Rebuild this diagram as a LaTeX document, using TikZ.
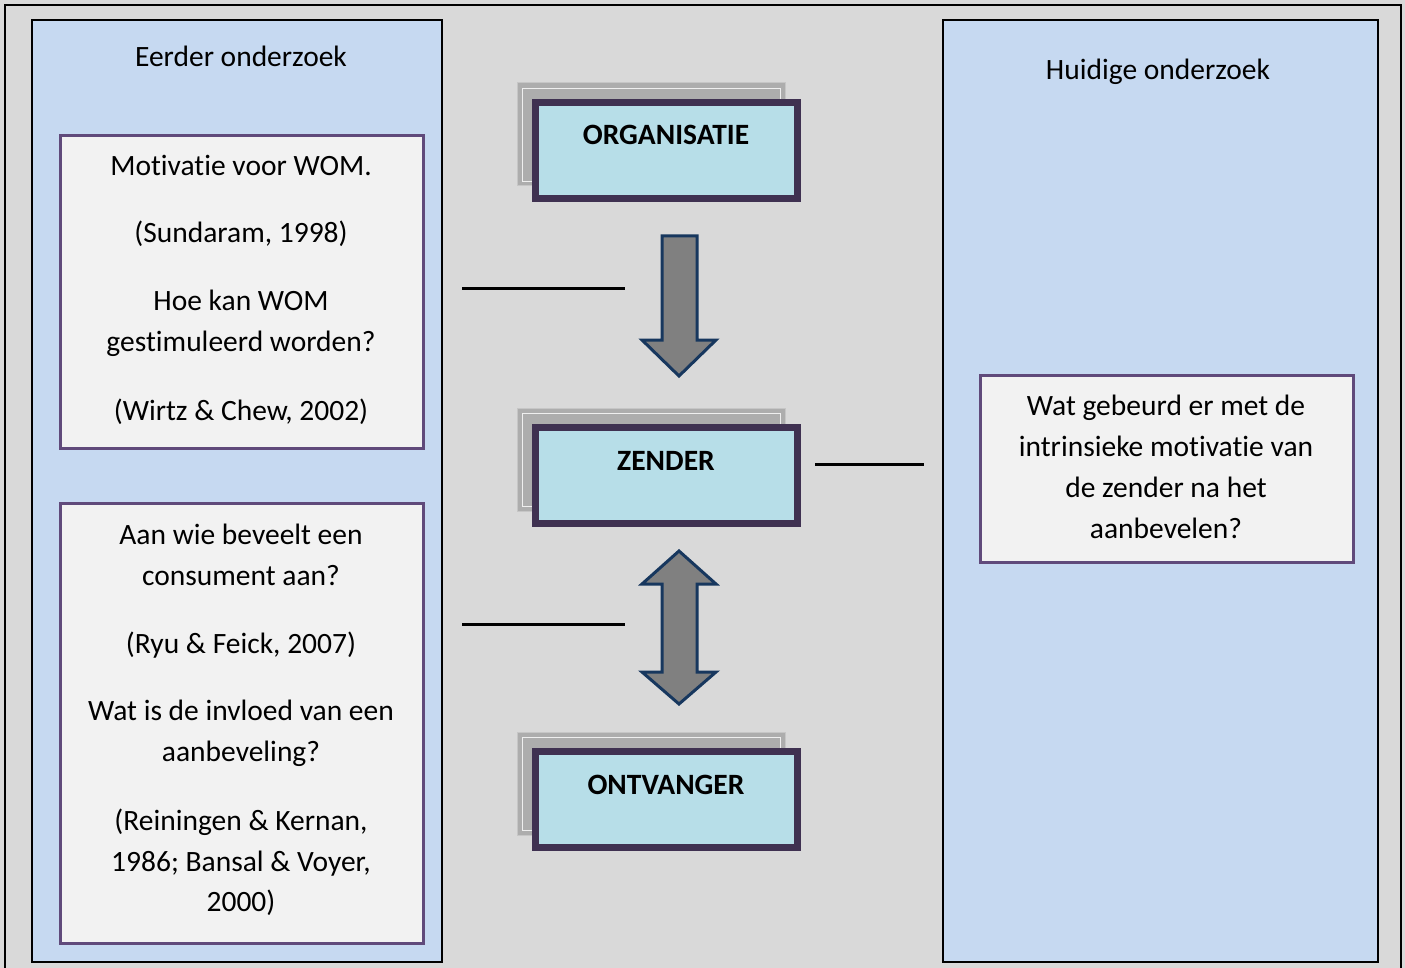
\documentclass[tikz,border=0pt]{standalone}
\usepackage{fontspec}
\setmainfont[Ligatures=NoCommon]{Carlito}
\definecolor{bggray}{HTML}{D9D9D9}
\definecolor{panelblue}{HTML}{C6D9F1}
\definecolor{boxgray}{HTML}{F2F2F2}
\definecolor{boxpurple}{HTML}{604A7B}
\definecolor{darkpurple}{HTML}{3F3151}
\definecolor{lightcyan}{HTML}{B7DEE8}
\definecolor{shadowgray}{HTML}{ADADAD}
\definecolor{arrowblue}{HTML}{17375E}
\definecolor{arrowgray}{HTML}{808080}
\begin{document}
\begin{tikzpicture}[x=1pt,y=-1pt,
  txt/.style={anchor=base,inner sep=0pt,font=\fontsize{29.5}{35}\selectfont},
  hdr/.style={anchor=base,inner sep=0pt,font=\fontsize{29.5}{35}\selectfont},
  btxt/.style={anchor=base,inner sep=0pt,font=\fontsize{29.5}{35}\selectfont\bfseries},
  panel/.style={draw=black,line width=2pt,fill=panelblue},
  qbox/.style={draw=boxpurple,line width=3pt,fill=boxgray},
  shadowbox/.style={fill=shadowgray,draw=shadowgray!70!white,line width=1pt},
  mainbox/.style={draw=darkpurple,line width=7pt,fill=lightcyan},
  bigarrow/.style={draw=arrowblue,line width=3pt,fill=arrowgray,line join=miter},
  conn/.style={draw=black,line width=3pt}]
\useasboundingbox (0,0) rectangle (1405,968);
% background
\fill[bggray] (0,0) rectangle (1405,968);
\draw[black,line width=2pt] (5,5) rectangle (1401,970);
% panels
\draw[panel] (32,20) rectangle (442,962);
\draw[panel] (943,20) rectangle (1378,962);
\node[hdr] (h1) at (241,67) {Eerder onderzoek};
\node[hdr] (h2) at (1158,80) {Huidige onderzoek};
% left boxes
\draw[qbox] (60,136) rectangle (423,448);
\node[txt] (t11) at (241,176) {Motivatie voor WOM.};
\node[txt] (t12) at (241,243) {(Sundaram, 1998)};
\node[txt] (t13) at (241,310) {Hoe kan WOM};
\node[txt] (t14) at (241,351) {gestimuleerd worden?};
\node[txt] (t15) at (241,420) {(Wirtz \& Chew, 2002)};
\draw[qbox] (60,503) rectangle (423,943);
\node[txt] (t21) at (241,544) {Aan wie beveelt een};
\node[txt] (t22) at (241,585) {consument aan?};
\node[txt] (t23) at (241,653) {(Ryu \& Feick, 2007)};
\node[txt] (t24) at (241,720) {Wat is de invloed van een};
\node[txt] (t25) at (241,761) {aanbeveling?};
\node[txt] (t26) at (241,830) {(Reiningen \& Kernan,};
\node[txt] (t27) at (241,871) {1986; Bansal \& Voyer,};
\node[txt] (t28) at (241,911) {2000)};
% right box
\draw[qbox] (980,375) rectangle (1353,562);
\node[txt] (r1) at (1166,415) {Wat gebeurd er met de};
\node[txt] (r2) at (1166,456) {intrinsieke motivatie van};
\node[txt] (r3) at (1166,497) {de zender na het};
\node[txt] (r4) at (1166,538) {aanbevelen?};
% centre boxes
\foreach \yy/\nm/\lab in {83/org/ORGANISATIE,408/zen/ZENDER,732/ont/ONTVANGER}{
  \draw[shadowbox] (517,\yy) rectangle (785,\yy+103);
  \draw[white!80!shadowgray,line width=0.8pt] (522,\yy+5) rectangle (780,\yy+98);
  \draw[mainbox] (535.5,\yy+19.5) rectangle (797.5,\yy+115.5);
  \node[btxt] (\nm) at (666,\yy+62) {\lab};
}
% down arrow
\draw[bigarrow] (662,236) -- (697,236) -- (697,340) -- (716,340) -- (679,376) -- (642,340) -- (662,340) -- cycle;
% double arrow
\draw[bigarrow] (679,551) -- (716,584) -- (697,584) -- (697,672) -- (716,672) -- (679,704) -- (642,672) -- (662,672) -- (662,584) -- (642,584) -- cycle;
% connectors
\coordinate (l1a) at (462,289); \coordinate (l1b) at (625,289);
\coordinate (l2a) at (462,624); \coordinate (l2b) at (625,624);
\coordinate (l3a) at (815,464); \coordinate (l3b) at (924,464);
\draw[conn] (l1a) -- (l1b);
\draw[conn] (l2a) -- (l2b);
\draw[conn] (l3a) -- (l3b);
\end{tikzpicture}
\end{document}
